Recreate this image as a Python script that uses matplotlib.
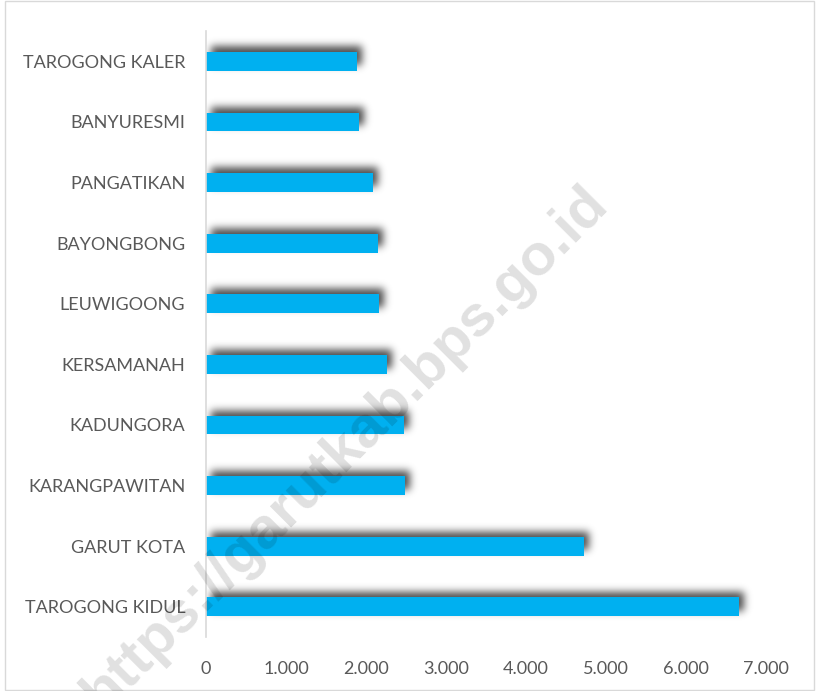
import numpy as np
import matplotlib.pyplot as plt
from matplotlib.ticker import FuncFormatter

# kecamatan, top to bottom as shown
kecamatan = ['TAROGONG KALER', 'BANYURESMI', 'PANGATIKAN', 'BAYONGBONG', 'LEUWIGOONG',
             'KERSAMANAH', 'KADUNGORA', 'KARANGPAWITAN', 'GARUT KOTA', 'TAROGONG KIDUL']
nilai = [1890, 1910, 2090, 2150, 2160, 2260, 2475, 2490, 4725, 6660]
xticks = [0, 1000, 2000, 3000, 4000, 5000, 6000, 7000]

plt.rcParams['font.family'] = ['Lato', 'DejaVu Sans']

fig = plt.figure(figsize=(8.16, 6.91), dpi=100)
ax = fig.add_axes([0.2525, 0.078, 0.686, 0.877])

pos = np.arange(len(kecamatan))
bar_h = 0.31
xmax = 7000
ylo, yhi = len(kecamatan) - 0.5, -0.5

ax.barh(pos, nilai, height=bar_h, color='#00B0F0', linewidth=0, zorder=2)

# blurred shadow, built on a pixel grid over the axes
nx, ny = 560, 606
xs = (np.arange(nx) + 0.5) / nx * xmax
ys = yhi + (np.arange(ny) + 0.5) / ny * (ylo - yhi)
dx = 5 * xmax / nx           # shift right ~5 px
dy = 5 * (ylo - yhi) / ny     # shift up ~5 px
mask = np.zeros((ny, nx))
for p, v in zip(pos, nilai):
    inx = (xs >= dx) & (xs <= v + dx)
    iny = (ys >= p - bar_h / 2 - dy) & (ys <= p + bar_h / 2 - dy)
    mask[np.ix_(iny, inx)] = 1.0
k = np.arange(-12, 13)
g = np.exp(-k ** 2 / (2 * 4.0 ** 2))
g /= g.sum()
mask = np.apply_along_axis(lambda r: np.convolve(r, g, mode='same'), 1, mask)
mask = np.apply_along_axis(lambda c: np.convolve(c, g, mode='same'), 0, mask)
rgba = np.zeros((ny, nx, 4))
rgba[..., 3] = np.clip(mask * 0.7, 0, 1)
ax.imshow(rgba, extent=[0, xmax, ylo, yhi], origin='upper', aspect='auto',
          interpolation='bilinear', zorder=1)

ax.set_ylim(ylo, yhi)
ax.set_xlim(0, xmax)
ax.set_yticks(pos)
ax.set_yticklabels(kecamatan)
ax.set_xticks(xticks)
ax.xaxis.set_major_formatter(FuncFormatter(lambda v, p: '{:,.0f}'.format(v).replace(',', '.')))
ax.tick_params(axis='both', length=0, labelsize=13, labelcolor='#595959')
ax.tick_params(axis='y', pad=15)
ax.tick_params(axis='x', pad=17)

for s in ['top', 'right', 'bottom']:
    ax.spines[s].set_visible(False)
ax.spines['left'].set_color('#d9d9d9')
ax.spines['left'].set_linewidth(1.2)

# watermark
fig.text(0.423, 0.352, 'https://garutkab.bps.go.id', rotation=45, fontsize=42,
         fontweight='bold', color='black', alpha=0.12, ha='center', va='center',
         family=['Liberation Sans', 'DejaVu Sans'], zorder=10)

# chart border
fig.patches.append(plt.Rectangle((0.006, 0.002), 0.992, 0.996, transform=fig.transFigure,
                                 fill=False, edgecolor='#d9d9d9', linewidth=1))

fig.savefig('out.png', dpi=100)
